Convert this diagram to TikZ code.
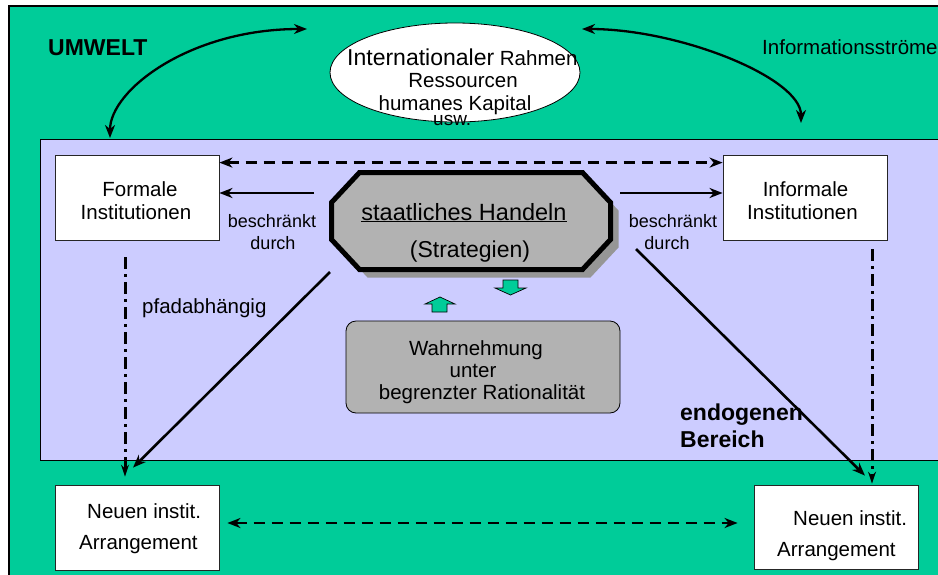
\documentclass[tikz,border=0pt]{standalone}
\usepackage{fontspec}
\setmainfont{Liberation Sans}
\usetikzlibrary{arrows.meta,calc,shapes.geometric}
\definecolor{umgreen}{HTML}{00CC99}
\definecolor{lav}{HTML}{CCCCFF}
\definecolor{boxgray}{HTML}{B2B2B2}
\definecolor{shadowgray}{HTML}{969696}
\newcommand{\fsA}{\fontsize{20.5}{23}\selectfont}
\newcommand{\fsB}{\fontsize{23}{26}\selectfont}
\newcommand{\fsC}{\fontsize{18}{21}\selectfont}
\newcommand{\fsD}{\fontsize{23.5}{26}\selectfont}
\newcommand{\fsE}{\fontsize{19}{21}\selectfont}
\begin{document}
\begin{tikzpicture}[x=1pt,y=-1pt,
  txt/.style={inner sep=0pt, anchor=base, font=\fsA},
  txtw/.style={txt, anchor=base west},
  instbox/.style={draw=black!85, line width=0.8pt, fill=white, minimum width=164pt, minimum height=85pt, inner sep=0pt},
  tip/.style={-{Stealth[length=13pt,width=10pt,inset=4pt]}},
  biarrow/.style={{Stealth[length=13pt,width=10pt,inset=4pt]}-{Stealth[length=13pt,width=10pt,inset=4pt]}},
  smalltip/.style={-{Stealth[length=12pt,width=8pt,inset=4pt]}},
  solidline/.style={line width=2.6pt},
  curveline/.style={line width=2.3pt},
  dashline/.style={line width=2.8pt, dash pattern=on 11pt off 7pt},
  dotdash/.style={line width=3pt, dash pattern=on 12pt off 5pt on 3pt off 5pt},
  smallarrow/.style={fill=umgreen, draw=black, line width=0.7pt, line join=miter}
]
\clip (0,0) rectangle (938,574);
\fill[white] (0,0) rectangle (938,574);
% backgrounds
\draw[fill=umgreen, line width=1.5pt] (9,6) rectangle (960,600);
\draw[fill=lav, line width=0.8pt] (40,139) rectangle (960,460);

% ellipse
\node[draw=black, line width=0.8pt, fill=white, ellipse, minimum width=250pt, minimum height=99pt, inner sep=0pt] (ell) at (455,72.5) {};
\node[txtw] (ellA) at (347,65) {{\fsB Internationaler} Rahmen};
\node[txt] (ellB) at (463,87) {Ressourcen};
\node[txt] (ellC) at (455,110) {humanes Kapital};
\node[txtw, font=\fsE] (ellD) at (433,125) {usw.};

% labels in environment
\node[txtw, font=\fsB\bfseries] (umwelt) at (48,55) {UMWELT};
\node[txtw] (info) at (762,54) {Informationsströme};

% curved arrows
\coordinate (cLa) at (110,138);
\coordinate (cLb) at (307,29);
\draw[curveline, biarrow] (cLa) .. controls (110,90) and (190,29) .. (cLb);
\coordinate (cRa) at (582,29);
\coordinate (cRb) at (801,123);
\draw[curveline, biarrow] (cRa) .. controls (680,29) and (801,78) .. (cRb);

% institution boxes
\node[instbox] (formal) at (137,197.5) {};
\node[txt] (formalA) at (140,196) {Formale};
\node[txt] (formalB) at (136,219) {Institutionen};
\node[instbox] (informal) at (805,197.5) {};
\node[txt] (informalA) at (805.5,196) {Informale};
\node[txt] (informalB) at (802.5,219) {Institutionen};
\node[instbox] (neuL) at (137,527.5) {};
\node[txtw] (neuLA) at (87,518) {Neuen instit.};
\node[txtw] (neuLB) at (79,549) {Arrangement};
\node[instbox, minimum height=84pt] (neuR) at (836,527) {};
\node[txtw] (neuRA) at (793,525) {Neuen instit.};
\node[txtw] (neuRB) at (777,556) {Arrangement};

% octagon with shadow
\fill[shadowgray] (367.5,180.5) -- (590.5,180.5) -- (618.5,210.5) -- (618.5,247.5) -- (590.5,277.5) -- (367.5,277.5) -- (339.5,247.5) -- (339.5,210.5) -- cycle;
\draw[line width=5pt, fill=boxgray, line join=miter] (359.5,172.5) -- (582.5,172.5) -- (610.5,202.5) -- (610.5,239.5) -- (582.5,269.5) -- (359.5,269.5) -- (331.5,239.5) -- (331.5,202.5) -- cycle;
\node[txt, font=\fsD] (hand) at (464,220) {\underline{staatliches Handeln}};
\node[txt, font=\fsB] (strat) at (470,257) {(Strategien)};

% small green arrows
\draw[smallarrow] (503,280) -- (518,280) -- (518,288) -- (526,288) -- (510.5,295) -- (495,288) -- (503,288) -- cycle;
\draw[smallarrow] (432,312) -- (447,312) -- (447,304) -- (455,304) -- (440,297) -- (425,304) -- (432,304) -- cycle;

% Wahrnehmung box
\node[draw=black, line width=0.8pt, rounded corners=10pt, fill=boxgray, minimum width=274pt, minimum height=92pt, inner sep=0pt] (wahr) at (483,367) {};
\node[txt] (wahrA) at (476,355) {Wahrnehmung};
\node[txt] (wahrB) at (473,377) {unter};
\node[txt] (wahrC) at (482,399) {begrenzter Rationalität};

% other labels
\node[txt, font=\fsC] (beschL) at (272,227) {beschränkt};
\node[txt, font=\fsC] (durchL) at (273,249) {durch};
\node[txt, font=\fsC] (beschR) at (673,227) {beschränkt};
\node[txt, font=\fsC] (durchR) at (667,249) {durch};
\node[txtw] (pfad) at (142,313) {pfadabhängig};
\node[txtw, font=\fsB\bfseries] (endoA) at (680,420) {endogenen};
\node[txtw, font=\fsB\bfseries] (endoB) at (680,447) {Bereich};

% connectors
\draw[dashline, biarrow] ($(formal.north east)+(0,8)$) -- ($(informal.north west)+(0,8)$);
\coordinate (sL) at (314,193);
\draw[solidline, tip] (sL) -- (sL -| formal.east);
\coordinate (sR) at (620,193);
\draw[solidline, tip] (sR) -- (sR -| informal.west);
\coordinate (dLs) at (330,272);
\coordinate (dLe) at ($(neuL.north)+(-4,-17)$);
\draw[solidline, tip] (dLs) -- (dLe);
\coordinate (dRs) at (636,249);
\coordinate (dRe) at ($(neuR.north)+(29,-9)$);
\draw[solidline, tip] (dRs) -- (dRe);
\coordinate (vLs) at ($(formal.south)+(-12,17)$);
\coordinate (vLe) at ($(neuL.north)+(-12,-8)$);
\draw[dotdash, smalltip] (vLs) -- (vLe);
\coordinate (vRs) at ($(informal.south)+(67,9)$);
\coordinate (vRe) at ($(neuR.north)+(36,-1)$);
\draw[dotdash, smalltip] (vRs) -- (vRe);
\draw[dashline, biarrow] ($(neuL.east)+(8,-4.5)$) -- ($(neuR.west)+(-16,-4)$);
\end{tikzpicture}
\end{document}
